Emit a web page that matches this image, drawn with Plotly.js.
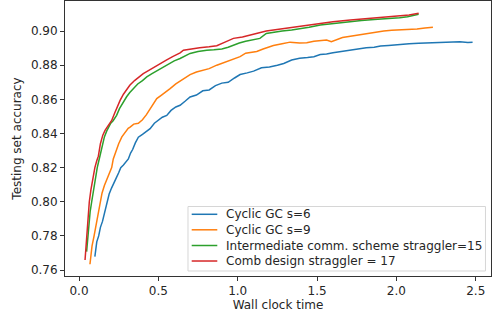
<!DOCTYPE html>
<html>
<head>
<meta charset="utf-8">
<script src="https://cdn.plot.ly/plotly-3.0.1.min.js"></script>
<style>html,body{margin:0;padding:0;background:#fff;}#chart{width:492px;height:314px;}</style>
</head>
<body>
<div id="chart"></div>
<script>
const seriesNames = ["Cyclic GC s=6", "Cyclic GC s=9", "Intermediate comm. scheme straggler=15", "Comb design straggler = 17"];
const seriesColors = ["#1f77b4", "#ff7f0e", "#2ca02c", "#d62728"];

const blueX = [0.100,0.105,0.112,0.124,0.135,0.148,0.160,0.177,0.190,0.205,0.220,0.235,0.250,0.263,0.280,0.295,0.311,0.325,0.338,0.355,0.374,0.400,0.425,0.448,0.475,0.500,0.525,0.553,0.580,0.610,0.637,0.670,0.700,0.740,0.780,0.820,0.860,0.900,0.940,0.980,1.015,1.060,1.100,1.150,1.200,1.250,1.290,1.340,1.390,1.440,1.480,1.520,1.560,1.600,1.650,1.700,1.750,1.810,1.860,1.900,1.950,2.020,2.080,2.140,2.190,2.230,2.280,2.340,2.400,2.450,2.480];
const blueY = [0.7678,0.7720,0.7765,0.7800,0.7850,0.7885,0.7930,0.8000,0.8045,0.8080,0.8115,0.8140,0.8170,0.8200,0.8215,0.8235,0.8251,0.8285,0.8306,0.8345,0.8378,0.8395,0.8415,0.8428,0.8460,0.8478,0.8495,0.8506,0.8535,0.8555,0.8565,0.8590,0.8614,0.8625,0.8650,0.8655,0.8680,0.8695,0.8700,0.8725,0.8745,0.8755,0.8765,0.8785,0.8790,0.8800,0.8810,0.8830,0.8840,0.8845,0.8850,0.8863,0.8865,0.8873,0.8880,0.8885,0.8895,0.8902,0.8905,0.8912,0.8915,0.8922,0.8925,0.8928,0.8930,0.8931,0.8935,0.8933,0.8937,0.8933,0.8935];

const orangeX = [0.069,0.075,0.082,0.095,0.105,0.118,0.132,0.145,0.160,0.175,0.190,0.206,0.216,0.232,0.250,0.270,0.290,0.310,0.322,0.345,0.374,0.400,0.425,0.448,0.470,0.490,0.520,0.545,0.574,0.610,0.645,0.680,0.700,0.740,0.780,0.820,0.868,0.910,0.950,0.980,1.015,1.050,1.080,1.120,1.160,1.225,1.280,1.330,1.390,1.435,1.480,1.520,1.560,1.590,1.620,1.660,1.710,1.760,1.810,1.870,1.920,1.970,2.020,2.080,2.130,2.180,2.230];
const orangeY = [0.7634,0.7690,0.7740,0.7800,0.7850,0.7920,0.8000,0.8050,0.8095,0.8130,0.8170,0.8200,0.8251,0.8300,0.8340,0.8380,0.8405,0.8430,0.8437,0.8455,0.8460,0.8480,0.8510,0.8545,0.8575,0.8604,0.8625,0.8645,0.8663,0.8690,0.8710,0.8731,0.8745,0.8760,0.8770,0.8780,0.8800,0.8815,0.8825,0.8840,0.8850,0.8870,0.8876,0.8880,0.8895,0.8915,0.8925,0.8935,0.8930,0.8932,0.8940,0.8945,0.8948,0.8938,0.8950,0.8962,0.8970,0.8978,0.8986,0.8995,0.9000,0.9004,0.9006,0.9010,0.9012,0.9018,0.9022];

const greenX = [0.048,0.055,0.062,0.070,0.080,0.090,0.100,0.115,0.125,0.132,0.145,0.160,0.175,0.185,0.200,0.215,0.237,0.255,0.270,0.280,0.300,0.320,0.343,0.370,0.400,0.427,0.460,0.500,0.532,0.570,0.600,0.637,0.670,0.700,0.750,0.805,0.850,0.900,0.940,0.973,1.010,1.050,1.100,1.140,1.180,1.230,1.280,1.340,1.390,1.450,1.520,1.580,1.650,1.710,1.780,1.860,1.940,2.020,2.070,2.110,2.140];
const greenY = [0.7708,0.7800,0.7880,0.7940,0.8000,0.8060,0.8120,0.8200,0.8240,0.8267,0.8320,0.8380,0.8415,0.8437,0.8460,0.8475,0.8506,0.8545,0.8570,0.8584,0.8615,0.8640,0.8663,0.8690,0.8710,0.8731,0.8750,0.8772,0.8790,0.8810,0.8825,0.8839,0.8855,0.8869,0.8880,0.8888,0.8890,0.8895,0.8905,0.8918,0.8930,0.8940,0.8948,0.8957,0.8986,0.8995,0.9000,0.9006,0.9012,0.9022,0.9035,0.9042,0.9050,0.9055,0.9062,0.9068,0.9072,0.9078,0.9084,0.9092,0.9098];

const redX = [0.038,0.044,0.048,0.055,0.065,0.075,0.085,0.100,0.112,0.122,0.135,0.150,0.164,0.185,0.206,0.225,0.242,0.259,0.280,0.300,0.320,0.350,0.380,0.405,0.440,0.475,0.510,0.550,0.590,0.637,0.658,0.700,0.760,0.820,0.868,0.920,0.973,1.030,1.080,1.130,1.180,1.240,1.300,1.390,1.450,1.520,1.600,1.710,1.800,1.900,2.020,2.080,2.140];
const redY = [0.7659,0.7740,0.7800,0.7880,0.8000,0.8070,0.8130,0.8200,0.8240,0.8267,0.8340,0.8390,0.8418,0.8450,0.8476,0.8520,0.8560,0.8594,0.8630,0.8660,0.8682,0.8710,0.8735,0.8751,0.8770,0.8790,0.8810,0.8830,0.8850,0.8872,0.8888,0.8892,0.8902,0.8908,0.8914,0.8935,0.8957,0.8965,0.8975,0.8988,0.9000,0.9008,0.9018,0.9028,0.9036,0.9045,0.9055,0.9065,0.9072,0.9080,0.9090,0.9094,0.9104];

const xTickVals = [0.0, 0.5, 1.0, 1.5, 2.0, 2.5];
const xTickText = ["0.0", "0.5", "1.0", "1.5", "2.0", "2.5"];
const yTickVals = [0.76, 0.78, 0.80, 0.82, 0.84, 0.86, 0.88, 0.90];
const yTickText = ["0.76", "0.78", "0.80", "0.82", "0.84", "0.86", "0.88", "0.90"];

const xs = [blueX, orangeX, greenX, redX];
const ys = [blueY, orangeY, greenY, redY];
const traces = xs.map((x, i) => ({
  x: x, y: ys[i], type: "scatter", mode: "lines", name: seriesNames[i],
  line: {color: seriesColors[i], width: 1.5}, showlegend: false
}));

const font = {family: "DejaVu Sans", size: 12, color: "#262626"};

// legend drawn in paper coordinates (matplotlib-style box)
const legX0 = 0.2887, legX1 = 0.987, legY0 = 0.0182, legY1 = 0.2527;
const legLineX0 = 0.2974, legLineX1 = 0.3575, legTextX = 0.3756;
const legRowY = [0.2244, 0.168, 0.1109, 0.0545];
const shapes = [{
  type: "rect", xref: "paper", yref: "paper", x0: legX0, x1: legX1, y0: legY0, y1: legY1,
  fillcolor: "rgba(255,255,255,0.8)", line: {color: "#d6d6d6", width: 1}, layer: "above"
}];
const annotations = [];
seriesNames.forEach((n, i) => {
  shapes.push({type: "line", xref: "paper", yref: "paper", x0: legLineX0, x1: legLineX1,
    y0: legRowY[i], y1: legRowY[i], line: {color: seriesColors[i], width: 1.5}, layer: "above"});
  annotations.push({xref: "paper", yref: "paper", x: legTextX, y: legRowY[i], text: n,
    showarrow: false, xanchor: "left", yanchor: "middle", font: font, borderpad: 0});
});

const layout = {
  width: 492, height: 314,
  margin: {l: 65, r: 1, t: 1, b: 38, pad: 0},
  paper_bgcolor: "#fff", plot_bgcolor: "#fff",
  font: font,
  showlegend: false,
  shapes: shapes,
  annotations: annotations,
  xaxis: {
    range: [-0.0882, 2.596], tickvals: xTickVals, ticktext: xTickText,
    showgrid: false, zeroline: false, showline: true, mirror: true,
    linecolor: "#333", linewidth: 1, ticks: "outside", ticklen: 4, tickcolor: "#333",
    tickfont: font,
    title: {text: "Wall clock time", font: font, standoff: 3}
  },
  yaxis: {
    range: [0.7565, 0.9176], tickvals: yTickVals, ticktext: yTickText,
    showgrid: false, zeroline: false, showline: true, mirror: true,
    linecolor: "#333", linewidth: 1, ticks: "outside", ticklen: 4, tickcolor: "#333",
    tickfont: font,
    title: {text: "Testing set accuracy", font: font, standoff: 6}
  }
};

Plotly.newPlot("chart", traces, layout, {staticPlot: true, displayModeBar: false});
</script>
</body>
</html>
